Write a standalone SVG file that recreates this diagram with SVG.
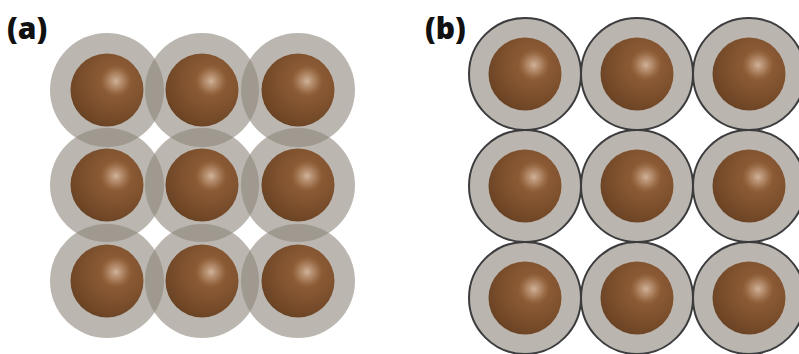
<svg xmlns="http://www.w3.org/2000/svg" width="799" height="354" viewBox="0 0 799 354">
  <defs>
    <radialGradient id="core" cx="0.62" cy="0.37" r="0.78" gradientUnits="objectBoundingBox">
      <stop offset="0" stop-color="#93633b"/>
      <stop offset="0.45" stop-color="#835430"/>
      <stop offset="0.8" stop-color="#6e4626"/>
      <stop offset="1" stop-color="#5c381c"/>
    </radialGradient>
    <radialGradient id="glint" cx="0.5" cy="0.5" r="0.5">
      <stop offset="0" stop-color="#d6bca6" stop-opacity="0.9"/>
      <stop offset="0.5" stop-color="#c29c7e" stop-opacity="0.55"/>
      <stop offset="1" stop-color="#a87a55" stop-opacity="0"/>
    </radialGradient>
    <g id="shellA"><circle r="57" class="shellA"/></g>
    <g id="shellB"><circle r="56" class="shellB"/></g>
    <g id="core1">
      <circle r="36.5" fill="url(#core)"/>
      <circle cx="9" cy="-9" r="16" fill="url(#glint)"/>
    </g>
  </defs>
  <style>
    .shellA { fill: #8d857b; fill-opacity: 0.6; }
    .shellB { fill: #bab5ae; stroke: #3c3c3e; stroke-width: 2; }
    .label { font-family: "Open Sans", "DejaVu Sans", sans-serif; font-weight: 800; font-size: 30px; fill: #111; }
  </style>
  <rect width="799" height="354" fill="#ffffff"/>

  <text class="label" x="7" y="39">(a)</text>
  <text class="label" x="425" y="39">(b)</text>

  <!-- (a) overlapping translucent shells -->
  <g id="panel-a-shells">
    <use href="#shellA" x="107" y="90"/>
    <use href="#shellA" x="202" y="90"/>
    <use href="#shellA" x="298" y="90"/>
    <use href="#shellA" x="107" y="185"/>
    <use href="#shellA" x="202" y="185"/>
    <use href="#shellA" x="298" y="185"/>
    <use href="#shellA" x="107" y="281"/>
    <use href="#shellA" x="202" y="281"/>
    <use href="#shellA" x="298" y="281"/>
  </g>
  <g id="panel-a-cores">
    <use href="#core1" x="107" y="90"/>
    <use href="#core1" x="202" y="90"/>
    <use href="#core1" x="298" y="90"/>
    <use href="#core1" x="107" y="185"/>
    <use href="#core1" x="202" y="185"/>
    <use href="#core1" x="298" y="185"/>
    <use href="#core1" x="107" y="281"/>
    <use href="#core1" x="202" y="281"/>
    <use href="#core1" x="298" y="281"/>
  </g>

  <!-- (b) separated core-shell particles -->
  <g id="panel-b">
    <g id="b11"><use href="#shellB" x="525" y="74"/><use href="#core1" x="525" y="74"/></g>
    <g id="b12"><use href="#shellB" x="637" y="74"/><use href="#core1" x="637" y="74"/></g>
    <g id="b13"><use href="#shellB" x="749" y="74"/><use href="#core1" x="749" y="74"/></g>
    <g id="b21"><use href="#shellB" x="525" y="186"/><use href="#core1" x="525" y="186"/></g>
    <g id="b22"><use href="#shellB" x="637" y="186"/><use href="#core1" x="637" y="186"/></g>
    <g id="b23"><use href="#shellB" x="749" y="186"/><use href="#core1" x="749" y="186"/></g>
    <g id="b31"><use href="#shellB" x="525" y="298"/><use href="#core1" x="525" y="298"/></g>
    <g id="b32"><use href="#shellB" x="637" y="298"/><use href="#core1" x="637" y="298"/></g>
    <g id="b33"><use href="#shellB" x="749" y="298"/><use href="#core1" x="749" y="298"/></g>
  </g>
</svg>
